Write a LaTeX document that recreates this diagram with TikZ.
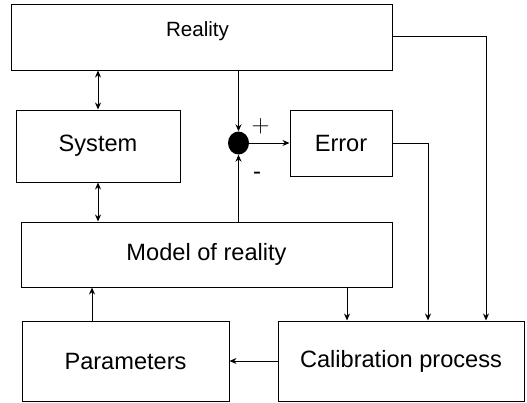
\documentclass[tikz,border=0pt]{standalone}
\usepackage{fontspec}
\setmainfont{Liberation Sans}
\usetikzlibrary{arrows.meta,shapes.geometric}
\begin{document}
\begin{tikzpicture}[x=1pt,y=-1pt,
  box/.style={draw, line width=1pt, inner sep=0pt, font=\fontsize{23.6}{26}\selectfont},
  arr/.style={-{Stealth[length=7pt,width=6pt]}, line width=1pt},
  darr/.style={{Stealth[length=7pt,width=6pt]}-{Stealth[length=7pt,width=6pt]}, line width=1pt}]
\useasboundingbox (0,0) rectangle (527,402);
\node[box, minimum width=381pt, minimum height=66pt] (reality) at (201.5,37) {};
\node[font=\fontsize{20.6}{24}\selectfont, inner sep=0pt] (realitytext) at (197.5,31) {Reality};
\node[box, minimum width=164pt, minimum height=72pt] (system) at (98,146) {System};
\node[box, minimum width=102pt, minimum height=66pt] (error) at (341,143) {Error};
\node[box, minimum width=371pt, minimum height=65pt] (model) at (206.5,254.5) {Model of reality};
\node[box, minimum width=207pt, minimum height=80pt] (param) at (125.5,361) {Parameters};
\node[box, minimum width=246pt, minimum height=80pt] (calib) at (401,361) {Calibration process};
\node[ellipse, fill=black, minimum width=21pt, minimum height=23pt, inner sep=0pt] (sum) at (238.5,143) {};
\node[font=\fontsize{27}{30}\selectfont, inner sep=0pt] (plus) at (260.5,126) {$+$};
\node[font=\fontsize{24}{26}\selectfont, inner sep=0pt] (minus) at (257,176) {-};
\draw[arr] (sum.north |- reality.south) -- (sum.north);
\draw[arr] (sum.east) -- (error.west);
\draw[arr] (sum.south |- model.north) -- (sum.south);
\draw[darr] (system.north |- reality.south) -- (system.north);
\draw[darr] (system.south) -- (system.south |- model.north);
\draw[arr] ([yshift=1pt]reality.east) -| ([xshift=85pt]calib.north);
\draw[arr] (error.east) -| ([xshift=27pt]calib.north);
\draw[arr] ([xshift=-54pt]calib.north |- model.south) -- ([xshift=-54pt]calib.north);
\draw[arr] ([xshift=-33.5pt]param.north) -- ([xshift=-33.5pt]param.north |- model.south);
\draw[arr] (calib.west) -- (param.east);
\end{tikzpicture}
\end{document}
